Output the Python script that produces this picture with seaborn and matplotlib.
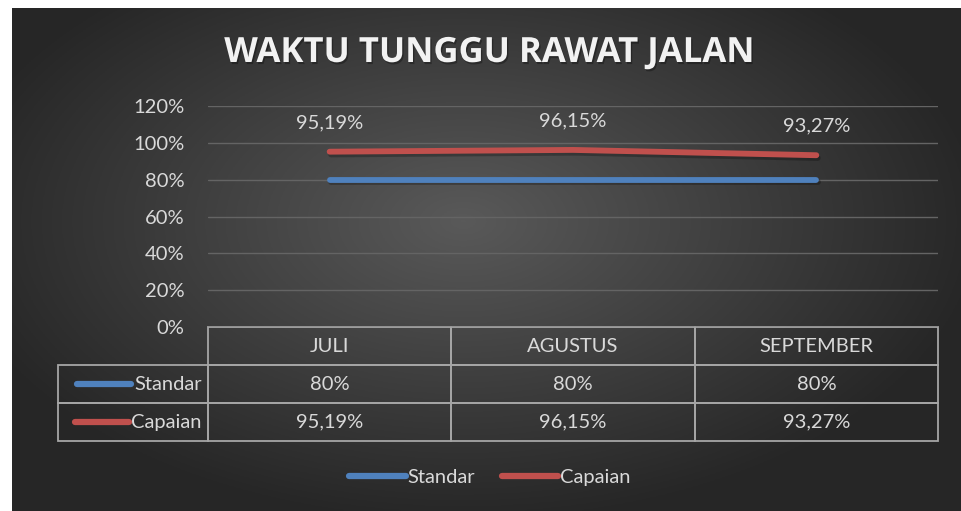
import matplotlib
matplotlib.use('Agg')
import matplotlib.pyplot as plt
import matplotlib.patheffects as pe
from matplotlib.lines import Line2D
import seaborn as sns
import pandas as pd
import numpy as np

months = ["JULI", "AGUSTUS", "SEPTEMBER"]
series_names = ["Standar", "Capaian"]
standar = [0.80, 0.80, 0.80]
capaian = [0.9519, 0.9615, 0.9327]
yticks = [0, 0.2, 0.4, 0.6, 0.8, 1.0, 1.2]
title = "WAKTU TUNGGU RAWAT JALAN"

colours = {"Standar": "#4f81bd", "Capaian": "#c0504d"}
txt_col = "#d9d9d9"
grid_col = "#646464"
edge_col = "#a6a6a6"
fs = 14.5


def fmt(v):
    p = round(v * 100, 2)
    if p == int(p):
        return "%d%%" % int(p)
    return ("%.2f%%" % p).replace(".", ",")


df = pd.DataFrame({
    "Bulan": months * 2,
    "Nilai": standar + capaian,
    "Seri": ["Standar"] * 3 + ["Capaian"] * 3,
})

sns.set_style("white")
plt.rcParams['font.family'] = ['Lato', 'DejaVu Sans']

W, H = 962, 511
fig = plt.figure(figsize=(W / 100, H / 100), dpi=100)
fig.patch.set_facecolor("white")

# dark panel with a soft radial gradient
bg = fig.add_axes([12 / W, 0, 1 - 12 / W, 1 - 8 / H])
gx, gy = np.meshgrid(np.linspace(-1, 1, 400), np.linspace(-1, 1, 220))
r = np.sqrt(((gx + 0.05) / 1.1) ** 2 + ((gy + 0.15) / 1.2) ** 2)
shade = np.clip(0.35 - 0.2 * r, 0.15, 0.35)
bg.imshow(np.dstack([shade, shade, shade]), aspect="auto", extent=[0, 1, 0, 1])
bg.set_axis_off()

# plot area
x0, x1, ytop, ybot = 208, 938, 106, 327
ax = fig.add_axes([x0 / W, 1 - ybot / H, (x1 - x0) / W, (ybot - ytop) / H])
ax.set_facecolor("none")

sns.lineplot(data=df, x="Bulan", y="Nilai", hue="Seri", hue_order=series_names,
             palette=colours, linewidth=4.2, sort=False, legend=False, ax=ax)
for ln in ax.lines:
    ln.set_solid_capstyle("round")
    ln.set_path_effects([pe.SimpleLineShadow(offset=(1, -2), shadow_color="black", alpha=0.25),
                         pe.Normal()])

for i, v in enumerate(capaian):
    ax.annotate(fmt(v), (i, v), xytext=(0, 21), textcoords="offset points",
                ha="center", va="center", color=txt_col, fontsize=fs)

ax.set_xlim(-0.5, len(months) - 0.5)
ax.set_ylim(0, 1.2)
ax.set_yticks(yticks)
ax.set_yticklabels([fmt(t) for t in yticks])
ax.tick_params(axis="y", length=0, pad=17, labelsize=fs, labelcolor=txt_col)
ax.set_xticks([])
ax.set_xlabel("")
ax.set_ylabel("")
ax.yaxis.grid(True, color=grid_col, lw=1)
ax.xaxis.grid(False)
for s in ax.spines.values():
    s.set_visible(False)

# data table below the axis
aw = x1 - x0
ah = ybot - ytop
lab_w = 150
tab_h = 441 - ybot
tbl = ax.table(cellText=[[fmt(v) for v in standar], [fmt(v) for v in capaian]],
               rowLabels=series_names, colLabels=months,
               colWidths=[1 / 3] * 3,
               cellLoc="center", rowLoc="right",
               bbox=[0, -tab_h / ah, 1, tab_h / ah])
tbl._autoColumns = []
tbl.auto_set_font_size(False)
tbl.set_fontsize(fs)
for (rr, cc), cell in tbl.get_celld().items():
    cell.set_edgecolor(edge_col)
    cell.set_linewidth(1.3)
    cell.set_facecolor("none")
    cell.get_text().set_color(txt_col)
    if cc == -1:
        cell.set_width(lab_w / aw)
        cell.PAD = 0.04

# line swatches in the row label cells, placed right before the label text
fig.canvas.draw()
renderer = fig.canvas.get_renderer()
inv = ax.transAxes.inverted()
for k, name in enumerate(series_names):
    yc = -tab_h / ah * (k + 1.5) / 3
    txt_left = tbl[k + 1, -1].get_text().get_window_extent(renderer).x0
    xe = inv.transform((txt_left - 3, 0))[0]
    ax.plot([xe - 54 / aw, xe], [yc, yc], transform=ax.transAxes,
            clip_on=False, color=colours[name], lw=4.5, solid_capstyle="round")

# title
fig.text(490 / W, 1 - 53 / H, title, ha="center", va="center", fontsize=25,
         fontweight="bold", color="#f2f2f2", family=["Open Sans", "DejaVu Sans"],
         path_effects=[pe.withSimplePatchShadow(offset=(1, -1.5), shadow_rgbFace="black", alpha=0.3)])

# legend
handles = [Line2D([0], [0], color=colours[n], lw=4.5, solid_capstyle="round") for n in series_names]
fig.legend(handles, series_names, loc="center", bbox_to_anchor=(490 / W, 1 - 477 / H),
           ncol=2, frameon=False, handlelength=2.8, handletextpad=0.1, columnspacing=1.3,
           fontsize=fs, labelcolor=txt_col)

plt.savefig("out.png", dpi=100)
